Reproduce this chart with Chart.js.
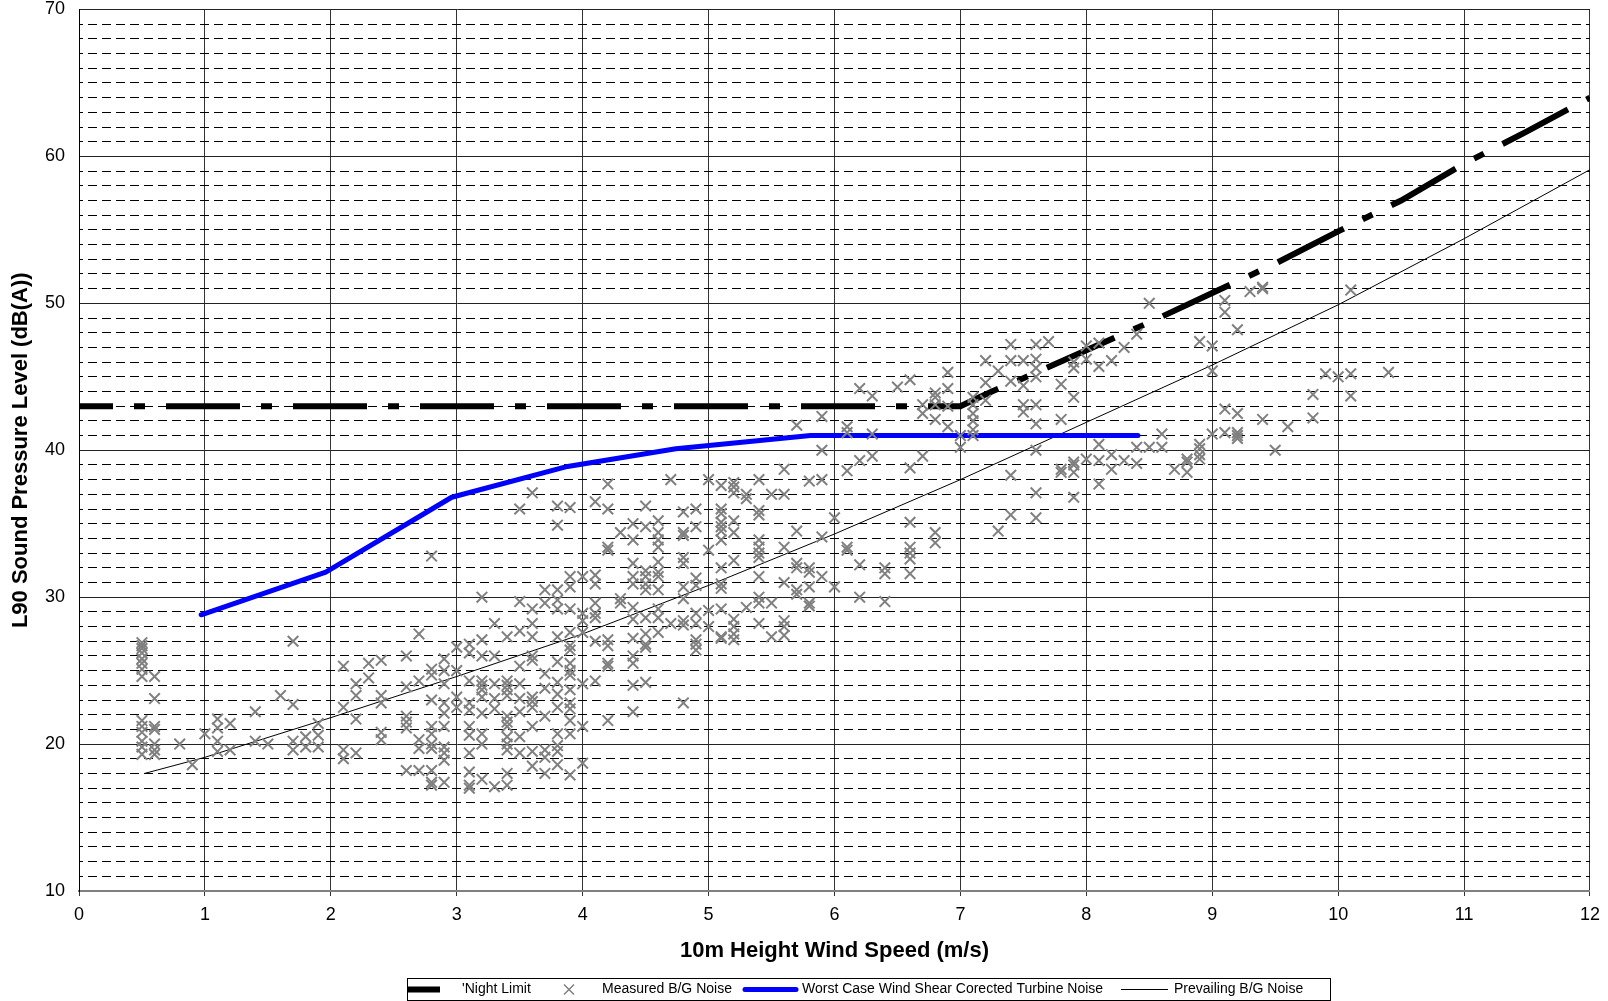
<!DOCTYPE html>
<html>
<head>
<meta charset="utf-8">
<script src="https://cdn.jsdelivr.net/npm/chart.js@4.4.0/dist/chart.umd.min.js"></script>
<style>
  html, body { margin: 0; padding: 0; background: #fff; }
  #wrap { width: 1608px; height: 1001px; }
</style>
</head>
<body>
<div id="wrap"><canvas id="noiseChart"></canvas></div>
<script>
// Night limit (dash-dot line)
const nightSpeeds = [0, 6.9, 7.0, 7.1, 7.25, 7.5, 8, 8.5, 9, 9.5, 10, 10.5, 11, 11.5, 12];
const nightLimit = [43, 43, 43.0, 43.4, 44.0, 44.9, 46.8, 48.7, 50.7, 52.7, 54.9, 57.0, 59.5, 61.7, 64.0];

// Worst case wind shear corrected turbine noise
const turbineSpeeds = [0.97, 1.96, 2.96, 3.88, 4.74, 5.81, 8.41];
const turbineNoise = [28.8, 31.7, 36.8, 38.9, 40.1, 41.0, 41.0];

// Prevailing background noise curve
const prevailingSpeeds = [0.52, 1, 2, 3, 4, 5, 6, 7, 8, 9, 10, 11, 12];
const prevailingNoise = [18.0, 19.1, 21.8, 24.6, 27.5, 30.8, 34.3, 38.0, 41.9, 45.8, 49.9, 54.4, 59.1];

// Measured background noise, grouped by wind speed column
const measuredSpeeds = [0.5, 0.6, 0.8, 0.9, 1.0, 1.1, 1.2, 1.4, 1.5, 1.6, 1.7, 1.8, 1.9,
  2.1, 2.2, 2.3, 2.4, 2.6, 2.7, 2.8, 2.9, 3.0, 3.1, 3.2, 3.3, 3.4, 3.5, 3.6, 3.7, 3.8, 3.9,
  4.0, 4.1, 4.2, 4.3, 4.4, 4.5, 4.6, 4.7, 4.8, 4.9, 5.0, 5.1, 5.2, 5.3, 5.4, 5.5, 5.6, 5.7,
  5.8, 5.9, 6.0, 6.1, 6.2, 6.3, 6.4, 6.5, 6.6, 6.7, 6.8, 6.9, 7.0, 7.1, 7.2, 7.3, 7.4, 7.5,
  7.6, 7.7, 7.8, 7.9, 8.0, 8.1, 8.2, 8.3, 8.4, 8.5, 8.6, 8.7, 8.8, 8.9, 9.0, 9.1, 9.2, 9.3,
  9.4, 9.5, 9.6, 9.8, 9.9, 10.0, 10.1, 10.4];
const measuredLevels = [
  [26.9, 26.7, 26.5, 26.2, 25.8, 25.5, 25.1, 24.6, 21.6, 21.2, 20.8, 20.2, 19.8, 19.3],
  [24.6, 23.1, 21.2, 21.0, 20.0, 19.6, 19.3],
  [20.0],
  [18.6],
  [20.7],
  [21.7, 21.1, 20.2, 19.5],
  [21.4, 19.6],
  [22.2, 20.2],
  [20.0],
  [23.3],
  [27.0, 22.7, 20.2, 19.6],
  [20.5, 19.8],
  [21.4, 20.6, 19.8],
  [25.3, 22.5, 19.6, 19.0],
  [24.1, 23.3, 21.7, 19.4],
  [25.5, 24.5],
  [25.7, 23.3, 22.8, 20.8, 20.3],
  [26.0, 23.9, 21.9, 21.5, 21.1, 18.2],
  [27.5, 24.3, 20.3, 19.7, 18.2],
  [32.8, 25.1, 24.7, 23.0, 21.2, 20.7, 20.0, 19.7, 18.2, 17.4, 17.2],
  [25.8, 25.0, 24.1, 22.8, 22.1, 21.2, 19.8, 19.4, 18.9, 17.4],
  [26.6, 25.0, 23.2, 22.5],
  [26.8, 26.2, 24.3, 22.8, 22.3, 21.2, 20.6, 19.4, 18.1, 17.2, 17.0],
  [30.0, 27.1, 26.0, 24.3, 24.0, 23.7, 23.2, 22.1, 20.7, 20.0, 17.6],
  [28.2, 26.0, 24.1, 23.1, 22.4, 17.1],
  [27.3, 24.3, 24.0, 23.7, 23.3, 21.9, 21.5, 21.2, 20.5, 20.0, 19.6, 18.0, 17.2],
  [36.0, 29.7, 27.7, 25.3, 24.1, 23.1, 22.2, 20.5, 19.4],
  [37.1, 29.2, 28.2, 27.3, 26.0, 25.7, 23.2, 22.9, 22.5, 21.2, 19.5, 18.5],
  [30.5, 29.6, 24.8, 23.8, 21.9, 19.6, 19.1, 18.0],
  [36.2, 34.9, 30.5, 29.8, 29.2, 27.3, 25.6, 24.2, 23.4, 22.5, 20.7, 19.9, 19.5, 18.6],
  [36.1, 31.4, 30.7, 29.2, 27.6, 26.7, 26.4, 25.5, 25.0, 24.7, 23.7, 22.8, 22.4, 21.6, 20.7, 17.9],
  [31.4, 28.9, 28.4, 27.6, 24.1, 21.2, 18.7],
  [36.5, 31.5, 30.9, 29.6, 28.9, 28.6, 27.0, 24.3],
  [37.7, 36.0, 33.4, 33.2, 27.1, 26.7, 25.5, 25.3, 21.6],
  [34.4, 29.9, 29.6],
  [35.0, 33.9, 32.3, 31.4, 30.9, 29.3, 28.5, 27.2, 26.0, 25.5, 24.0, 22.2],
  [36.2, 34.8, 31.8, 31.4, 30.9, 30.5, 28.6, 27.5, 26.8, 26.6, 24.2],
  [35.2, 34.4, 33.9, 33.4, 32.4, 31.7, 31.4, 30.5, 29.2, 28.6, 27.6],
  [38.0, 28.2],
  [35.8, 34.4, 34.2, 32.7, 32.3, 30.7, 29.9, 28.4, 28.1, 22.8],
  [36.0, 34.8, 31.3, 30.8, 28.9, 28.2, 27.1, 26.8, 26.4],
  [38.0, 33.2, 29.1, 28.0],
  [37.6, 36.0, 35.7, 35.1, 34.8, 34.5, 33.9, 32.0, 30.9, 30.6, 29.2, 27.3, 27.2],
  [37.8, 37.5, 37.1, 35.2, 34.4, 32.5, 28.5, 28.0, 27.5, 27.1],
  [37.0, 36.7, 29.3],
  [38.0, 35.9, 35.6, 33.9, 33.4, 33.0, 32.7, 31.4, 30.0, 29.6, 28.2],
  [37.0, 29.6, 27.3],
  [38.7, 37.0, 33.4, 31.0, 28.4, 28.0, 27.4],
  [41.7, 34.5, 32.3, 32.0, 30.5, 30.2],
  [37.9, 32.0, 31.7, 30.7, 29.6, 29.4],
  [42.3, 40.0, 38.0, 34.1, 31.4],
  [35.4, 30.7],
  [41.6, 41.2, 38.6, 33.4, 33.2],
  [44.2, 39.3, 32.2, 30.0],
  [43.7, 41.1, 39.6],
  [32.0, 31.6, 29.7],
  [44.3],
  [44.8, 38.8, 35.1, 33.4, 33.0, 32.6, 31.6],
  [43.1, 42.5, 39.6],
  [43.9, 43.6, 43.1, 42.1, 34.4, 33.7],
  [45.3, 44.2, 43.0, 41.6],
  [41.0, 40.2],
  [43.6, 43.1, 42.5, 42.0, 41.4, 41.0],
  [46.1, 44.6, 43.4],
  [45.4, 34.5],
  [47.2, 46.1, 44.7, 38.3, 35.6],
  [46.1, 44.4, 43.1, 42.6],
  [47.2, 46.2, 45.6, 45.0, 43.1, 41.8, 40.0, 37.1, 35.4],
  [47.4],
  [44.5, 42.1, 38.7, 38.5],
  [46.0, 45.6, 43.6, 39.2, 39.0, 38.5, 36.8],
  [47.1, 46.2, 39.4],
  [47.3, 45.7, 40.4, 39.3, 37.7],
  [46.1, 39.7, 38.7],
  [47.0, 39.3],
  [47.9, 40.2, 39.1],
  [50.0, 40.2],
  [41.1, 40.2],
  [38.7],
  [39.4, 39.2, 38.5],
  [47.4, 40.4, 40.1, 39.7, 39.4],
  [47.1, 45.4, 41.1],
  [50.2, 49.4, 42.8, 41.2],
  [48.2, 42.5, 41.2, 41.0, 40.8],
  [50.8],
  [51.1, 51.0, 42.1],
  [40.0],
  [41.6],
  [43.8, 42.2],
  [45.2],
  [45.0],
  [50.9, 45.2, 43.7],
  [45.3]
];

function toPoints(xs, ys) {
  return xs.map((x, i) => ({ x: x, y: ys[i] }));
}

const measuredPoints = [];
measuredSpeeds.forEach((s, i) => {
  measuredLevels[i].forEach(v => measuredPoints.push({ x: s, y: v }));
});

Chart.defaults.font.family = '"Liberation Sans", Arial, sans-serif';
Chart.defaults.color = '#000';

// Legend drawn as a boxed strip under the x-axis title
const boxLegend = {
  id: 'boxLegend',
  afterDraw(chart) {
    const ctx = chart.ctx;
    const ds = chart.data.datasets;
    const cy = 989.5;
    ctx.save();
    ctx.strokeStyle = '#000';
    ctx.lineWidth = 1;
    ctx.strokeRect(407.5, 978.5, 923, 22);
    ctx.font = '14px "Liberation Sans", Arial, sans-serif';
    ctx.textBaseline = 'middle';
    ctx.fillStyle = '#000';

    // night limit: thick black bar
    ctx.fillStyle = ds[1].borderColor;
    ctx.fillRect(408, cy - 3, 32, 6);
    ctx.fillStyle = '#000';
    ctx.fillText(ds[1].label, 462, cy);

    // measured: grey X
    ctx.strokeStyle = ds[0].borderColor;
    ctx.lineWidth = 1.5;
    ctx.beginPath();
    ctx.moveTo(564, cy - 5); ctx.lineTo(574, cy + 5);
    ctx.moveTo(574, cy - 5); ctx.lineTo(564, cy + 5);
    ctx.stroke();
    ctx.fillText(ds[0].label, 602, cy);

    // turbine: thick blue line
    ctx.strokeStyle = ds[2].borderColor;
    ctx.lineWidth = 5;
    ctx.lineCap = 'round';
    ctx.beginPath();
    ctx.moveTo(745, cy); ctx.lineTo(796, cy);
    ctx.stroke();
    ctx.fillText(ds[2].label, 802, cy);

    // prevailing: thin black line
    ctx.strokeStyle = ds[3].borderColor;
    ctx.lineWidth = 1;
    ctx.lineCap = 'butt';
    ctx.beginPath();
    ctx.moveTo(1121, cy); ctx.lineTo(1168, cy);
    ctx.stroke();
    ctx.fillText(ds[3].label, 1174, cy);
    ctx.restore();
  }
};

new Chart(document.getElementById('noiseChart'), {
  type: 'scatter',
  data: {
    datasets: [
      {
        label: 'Measured B/G Noise',
        data: measuredPoints,
        order: 0,
        pointStyle: 'crossRot',
        pointRadius: 7.5,
        borderWidth: 2,
        borderColor: '#808080',
        backgroundColor: '#808080'
      },
      {
        type: 'line',
        label: "'Night Limit",
        data: toPoints(nightSpeeds, nightLimit),
        order: 1,
        borderColor: '#000',
        borderWidth: 6,
        borderDash: [74, 21, 11, 21],
        borderDashOffset: 40,
        borderCapStyle: 'butt',
        pointRadius: 0,
        tension: 0,
        fill: false
      },
      {
        type: 'line',
        label: 'Worst Case Wind Shear Corected Turbine Noise',
        data: toPoints(turbineSpeeds, turbineNoise),
        order: 2,
        borderColor: '#0000ff',
        borderWidth: 5,
        borderCapStyle: 'round',
        borderJoinStyle: 'round',
        pointRadius: 0,
        tension: 0,
        fill: false
      },
      {
        type: 'line',
        label: 'Prevailing B/G Noise',
        data: toPoints(prevailingSpeeds, prevailingNoise),
        order: 3,
        borderColor: '#000',
        borderWidth: 1,
        pointRadius: 0,
        tension: 0,
        fill: false
      }
    ]
  },
  options: {
    responsive: true,
    maintainAspectRatio: false,
    animation: false,
    layout: { padding: { top: 8, right: 14, bottom: 37, left: 0 } },
    plugins: {
      legend: { display: false },
      tooltip: { enabled: false }
    },
    scales: {
      x: {
        type: 'linear',
        min: 0,
        max: 12,
        ticks: { stepSize: 1, padding: 8, font: { size: 18 } },
        grid: { color: '#333', lineWidth: 1, tickLength: 5, tickColor: '#333' },
        border: { color: '#808080', width: 2 },
        title: {
          display: true,
          text: '10m Height Wind Speed (m/s)',
          font: { size: 22, weight: 'bold' },
          padding: 0
        },
        afterFit: s => { s.height = 73; }
      },
      y: {
        min: 10,
        max: 70,
        ticks: { stepSize: 10, padding: 14, font: { size: 18 } },
        grid: { color: '#222', lineWidth: 1, drawTicks: false },
        border: { color: '#000', width: 1 },
        title: {
          display: true,
          text: 'L90 Sound Pressure Level (dB(A))',
          font: { size: 22, weight: 'bold' },
          padding: { top: 8, bottom: 0 }
        },
        afterFit: s => { s.width = 79; s.paddingTop = 0; s.paddingBottom = 0; }
      },
      yMinor: {
        position: 'left',
        min: 10,
        max: 70,
        ticks: { stepSize: 1, display: false, autoSkip: false },
        grid: {
          color: c => (c.tick && c.tick.value % 10 === 0) ? 'rgba(0,0,0,0)' : '#000',
          lineWidth: 1,
          drawTicks: false
        },
        border: { display: false, dash: [9, 5], dashOffset: 5 },
        afterFit: s => { s.width = 0; s.paddingTop = 0; s.paddingBottom = 0; }
      }
    }
  },
  plugins: [boxLegend]
});
</script>
</body>
</html>
